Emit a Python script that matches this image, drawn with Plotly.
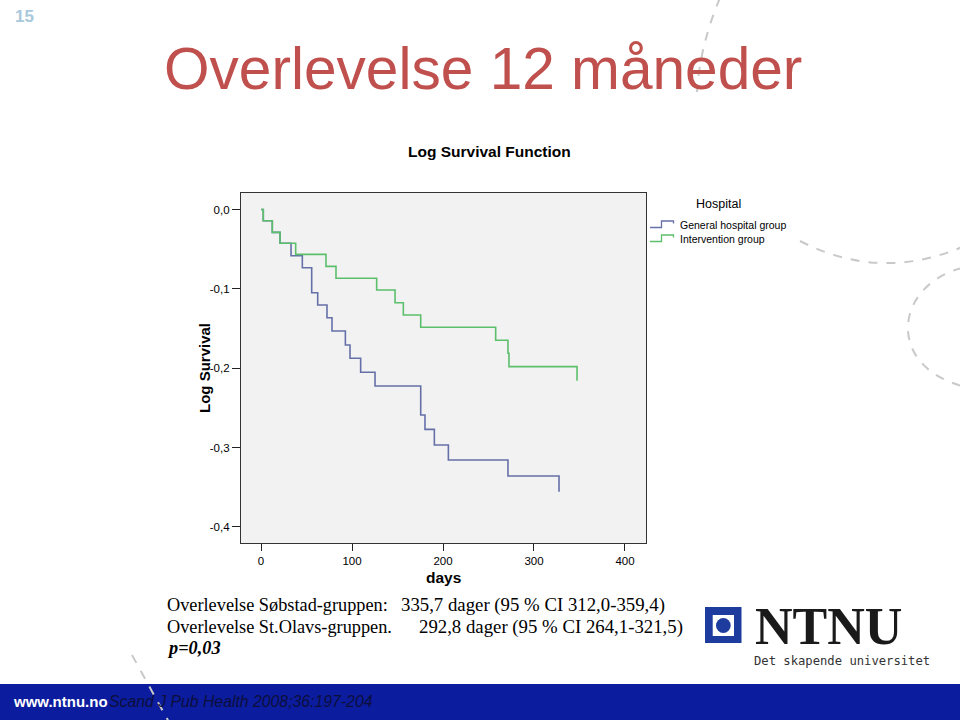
import plotly.graph_objects as go

# ---------------- data ----------------
general_days = [0, 2.5, 12.4, 20.9, 33.0, 45.4, 55.7, 62.3, 72.5, 78.0, 92.7, 97.8,
                109.5, 125.3, 175.5, 180.2, 190.5, 205.9, 271.4, 327.5]
general_logS = [0, -0.0141, -0.0288, -0.0426, -0.0582, -0.0733, -0.1048, -0.1203,
                -0.1363, -0.1530, -0.1707, -0.1875, -0.2051, -0.2224, -0.2589,
                -0.2770, -0.2967, -0.3156, -0.3358, -0.3555]

interv_days = [0, 2.5, 12.4, 20.9, 38.1, 71.4, 82.4, 127.1, 147.3, 156.4, 175.5,
               257.9, 271.4, 272.5, 347.3]
interv_logS = [0, -0.0141, -0.0288, -0.0426, -0.0565, -0.0716, -0.0867, -0.1014,
               -0.1174, -0.1329, -0.1484, -0.1648, -0.1812, -0.1980, -0.2157]

x_ticks = [0, 100, 200, 300, 400]
y_ticks = [0, -0.1, -0.2, -0.3, -0.4]
y_ticktext = ["0,0", "-0,1", "-0,2", "-0,3", "-0,4"]

series_names = ["General hospital group", "Intervention group"]
BLUE = "#6570a8"
GREEN = "#5cbf6c"

W, H = 960, 720


def px(x):
    return x / W


def py(y):
    return 1 - y / H


def P(x, y):
    return f"{px(x):.5f},{py(y):.5f}"


fig = go.Figure()
fig.add_trace(go.Scatter(x=general_days, y=general_logS, mode="lines",
                         line=dict(color=BLUE, width=1.6, shape="hv"),
                         name=series_names[0], showlegend=False))
fig.add_trace(go.Scatter(x=interv_days, y=interv_logS, mode="lines",
                         line=dict(color=GREEN, width=1.6, shape="hv"),
                         name=series_names[1], showlegend=False))

shapes = []
# footer band
shapes.append(dict(type="rect", xref="paper", yref="paper", x0=0, x1=1,
                   y0=py(720), y1=py(684), fillcolor="#0b1c9e", line=dict(width=0),
                   layer="below"))
# decorative dashed arcs
dash_line = dict(color="#c9c9c9", width=2, dash="dash")
for path in [
    f"M {P(720,-2)} Q {P(700,45)} {P(697,92)}",
    f"M {P(800,241)} Q {P(880,282)} {P(962,247)}",
    f"M {P(962,268)} C {P(895,285)} {P(885,365)} {P(962,386)}",
    f"M {P(132,655)} L {P(170,724)}",
]:
    shapes.append(dict(type="path", xref="paper", yref="paper", path=path,
                       line=dash_line, layer="above"))

# legend icons (step shapes)
for (col, yb) in [(BLUE, 227.5), (GREEN, 241.5)]:
    path = (f"M {P(650,yb)} L {P(661.5,yb)} L {P(661.5,yb-6.5)} "
            f"L {P(673.5,yb-6.5)} L {P(673.5,yb-4)}")
    shapes.append(dict(type="path", xref="paper", yref="paper", path=path,
                       line=dict(color=col, width=1.3)))

# NTNU logo square
shapes.append(dict(type="rect", xref="paper", yref="paper", x0=px(705), x1=px(741.5),
                   y0=py(643), y1=py(607), fillcolor="#1d3c9e", line=dict(width=0)))
shapes.append(dict(type="rect", xref="paper", yref="paper", x0=px(712.7), x1=px(734),
                   y0=py(636), y1=py(615), fillcolor="white", line=dict(width=0)))
shapes.append(dict(type="circle", xref="paper", yref="paper", x0=px(716), x1=px(730.7),
                   y0=py(633), y1=py(618), fillcolor="#1d3c9e", line=dict(width=0)))

ann = []


def A(text, x, y, size, color="black", family="Liberation Sans, Arial, sans-serif",
      xanchor="center", yanchor="middle", textangle=0):
    ann.append(dict(text=text, x=px(x), y=py(y), xref="paper", yref="paper",
                    showarrow=False, xanchor=xanchor, yanchor=yanchor,
                    textangle=textangle, font=dict(size=size, color=color, family=family)))


A("<b>15</b>", 13, 16, 17, color="#a9c8dc", xanchor="left")
A("Overlevelse 12 måneder", 162, 68, 58.6, color="#c0504d", xanchor="left")
A("<b>Log Survival Function</b>", 490, 151, 15.5)
A("<b>Log Survival</b>", 204, 368, 15, textangle=-90)
A("<b>days</b>", 443, 577, 15.5)
A("Hospital", 718, 204, 12.5)
A(series_names[0], 678, 224.5, 10.5, xanchor="left")
A(series_names[1], 678, 238.5, 10.5, xanchor="left")

serif = "Liberation Serif, Times New Roman, serif"
A("Overlevelse Søbstad-gruppen:", 165, 605, 18.3, family=serif, xanchor="left")
A("335,7 dager (95 % CI 312,0-359,4)", 399, 605, 18.8, family=serif, xanchor="left")
A("Overlevelse St.Olavs-gruppen.", 165, 627, 18.3, family=serif, xanchor="left")
A("292,8 dager (95 % CI 264,1-321,5)", 417, 627, 18.8, family=serif, xanchor="left")
A("<b><i>p=0,03</i></b>", 165, 648, 18.3, family=serif, xanchor="left")

A("<b>NTNU</b>", 828, 626, 52, family=serif, color="#1a1a1a")
A("Det skapende universitet", 842, 661, 12.2, family="DejaVu Sans Mono, monospace",
  color="#333333")

A("<b>www.ntnu.no</b>", 11, 701, 15, color="white", xanchor="left")
A("<i>Scand J Pub Health 2008;36:197-204</i>", 107, 701, 15.8, color="#0c0f3c",
  xanchor="left")

fig.update_layout(
    width=W, height=H,
    margin=dict(l=0, r=0, t=0, b=0),
    paper_bgcolor="white",
    plot_bgcolor="#f2f2f2",
    showlegend=False,
    shapes=shapes,
    annotations=ann,
    font=dict(family="Liberation Sans, Arial, sans-serif", color="black"),
    xaxis=dict(domain=[px(241), px(646)], range=[-22, 423.1], tickvals=x_ticks,
               ticks="outside", ticklen=7, tickcolor="#222", showgrid=False,
               zeroline=False, showline=True, mirror=True, linecolor="#333",
               linewidth=1.2, tickfont=dict(size=11.5, color="black")),
    yaxis=dict(domain=[py(543), py(193)], range=[-0.4202, 0.0208], tickvals=y_ticks,
               ticktext=y_ticktext, ticks="outside", ticklen=8, tickcolor="#222",
               showgrid=False, zeroline=False, showline=True, mirror=True,
               linecolor="#333", linewidth=1.2, tickfont=dict(size=11.5, color="black")),
)

fig.write_html("out.html",
               config={"displayModeBar": False},
               post_script="document.body.style.margin='0';"
                           "document.body.style.overflow='hidden';")
